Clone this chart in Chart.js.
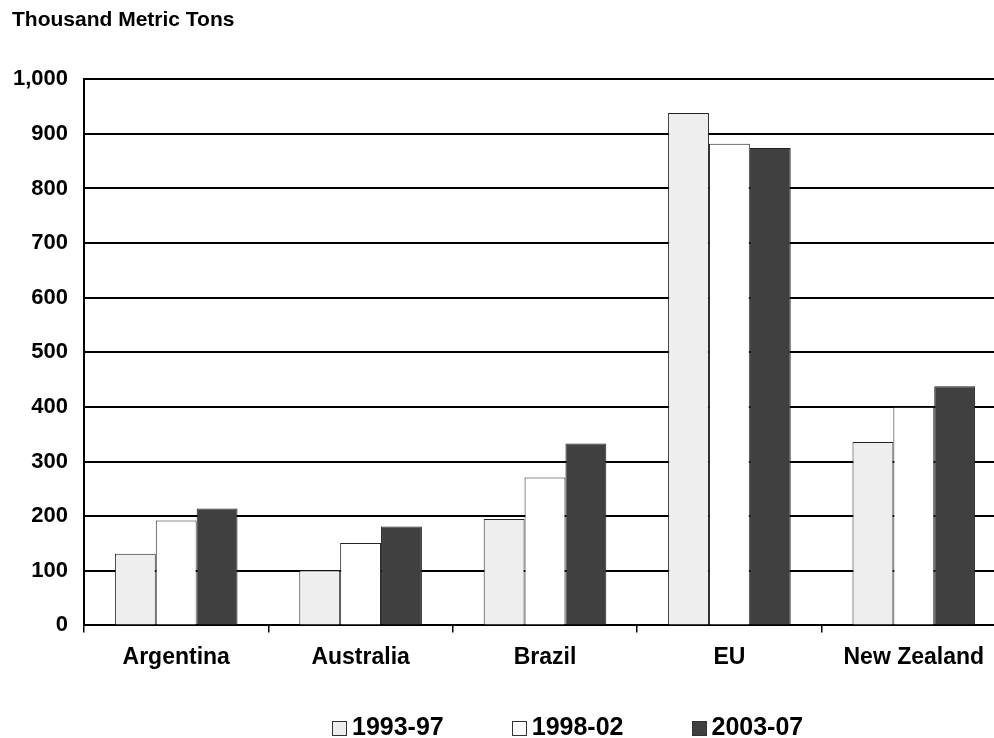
<!DOCTYPE html>
<html>
<head>
<meta charset="utf-8">
<script src="https://cdn.jsdelivr.net/npm/chart.js@4"></script>
<style>
  html, body { margin: 0; padding: 0; background: #fff; overflow: hidden; }
  #wrap { width: 1006px; height: 738px; position: relative; }
  #legend {
    position: absolute; left: 332px; top: 714px;
    display: flex; gap: 68px;
    font: bold 25px/25px 'Liberation Sans', Arial, sans-serif; color: #000;
    white-space: nowrap;
  }
  #legend .item { display: flex; align-items: flex-start; }
  #legend .box { box-sizing: border-box; width: 15px; height: 15px; border: 1px solid #333; margin-right: 5px; margin-top: 7px; }
</style>
</head>
<body>
<div id="wrap">
  <canvas id="chart"></canvas>
  <div id="legend"></div>
</div>
<script>
const categories = ["Argentina", "Australia", "Brazil", "EU", "New Zealand"];
const seriesNames = ["1993-97", "1998-02", "2003-07"];
const values9397 = [131, 101, 195, 938, 336];
const values9802 = [192, 151, 271, 882, 400];
const values0307 = [214, 181, 333, 874, 438];
const yTicks = [0, 100, 200, 300, 400, 500, 600, 700, 800, 900, 1000];
const colors = ["#eeeeee", "#ffffff", "#404040"];

const FONT = "'Liberation Sans', Arial, sans-serif";

new Chart(document.getElementById("chart"), {
    type: "bar",
    data: {
        labels: categories,
        datasets: [
            { label: seriesNames[0], data: values9397, backgroundColor: colors[0], borderColor: "#222", borderWidth: 1 },
            { label: seriesNames[1], data: values9802, backgroundColor: colors[1], borderColor: "#222", borderWidth: 1 },
            { label: seriesNames[2], data: values0307, backgroundColor: colors[2], borderColor: "#222", borderWidth: 1 }
        ]
    },
    options: {
        responsive: true,
        maintainAspectRatio: false,
        animation: false,
        layout: { padding: { left: 12, right: 0, top: 0, bottom: 56 } },
        datasets: { bar: { categoryPercentage: 0.665, barPercentage: 1.0 } },
        plugins: {
            title: {
                display: true,
                text: "Thousand Metric Tons",
                align: "start",
                color: "#000",
                font: { family: FONT, size: 21, weight: "bold" },
                padding: { top: 8, bottom: 46 }
            },
            legend: { display: false },
            tooltip: { enabled: false }
        },
        scales: {
            x: {
                grid: {
                    offset: true,
                    drawOnChartArea: false,
                    drawTicks: true,
                    tickLength: 7,
                    color: "#000",
                    lineWidth: 1.5
                },
                border: { display: true, color: "#000", width: 2 },
                ticks: {
                    color: "#000",
                    padding: 11,
                    font: { family: FONT, size: 23, weight: "bold" }
                }
            },
            y: {
                min: 0,
                max: 1000,
                afterBuildTicks: (axis) => { axis.ticks = yTicks.map(v => ({ value: v })); },
                afterFit: (axis) => { axis.width = 72; },
                grid: {
                    color: "#000",
                    lineWidth: 2,
                    drawTicks: false
                },
                border: { display: true, color: "#000", width: 2 },
                ticks: {
                    color: "#000",
                    padding: 16,
                    font: { family: FONT, size: 22, weight: "bold" },
                    callback: (v) => Number(v).toLocaleString("en-US")
                }
            }
        }
    }
});

// legend built from the series names and colours
const legendEl = document.getElementById("legend");
seriesNames.forEach((name, i) => {
    const item = document.createElement("div");
    item.className = "item";
    const box = document.createElement("span");
    box.className = "box";
    box.style.background = colors[i];
    const txt = document.createElement("span");
    txt.textContent = name;
    item.appendChild(box);
    item.appendChild(txt);
    legendEl.appendChild(item);
});
</script>
</body>
</html>
